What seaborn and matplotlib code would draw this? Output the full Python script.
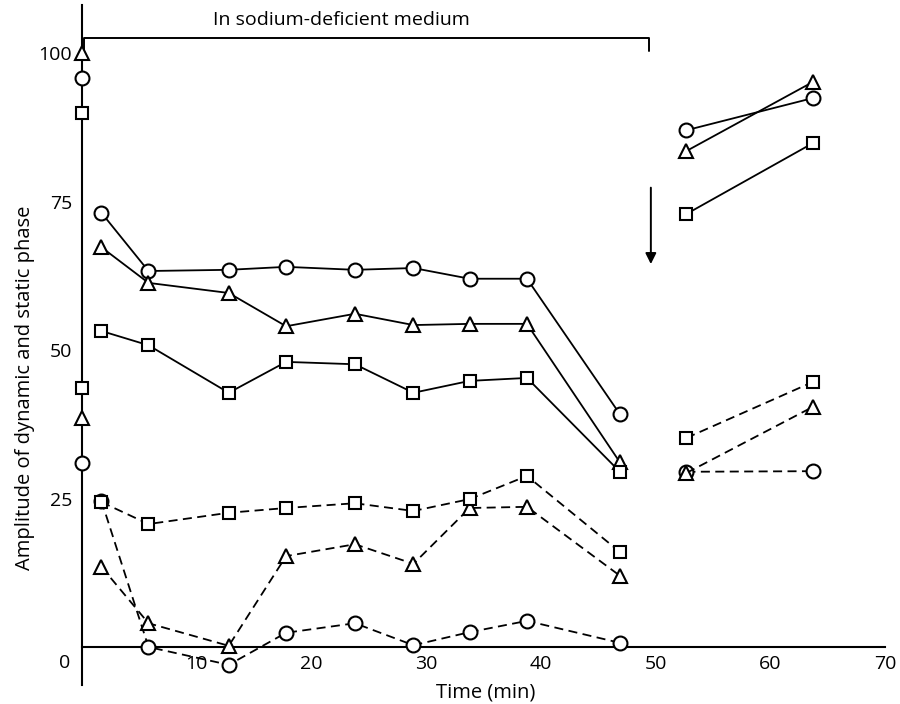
import numpy as np
import pandas as pd
import seaborn as sns
import matplotlib.pyplot as plt

# sampling times (min)
times = [1.7, 5.8, 12.8, 17.8, 23.8, 28.9, 33.8, 38.8, 46.9]
rec_times = [52.7, 63.7]

# dynamic phase (solid lines)
dyn_circle = [73.1, 63.3, 63.5, 64.0, 63.5, 63.8, 62.0, 62.0, 39.2]
dyn_triangle = [67.3, 61.3, 59.6, 54.0, 56.1, 54.2, 54.4, 54.4, 31.1]
dyn_square = [53.2, 50.8, 42.8, 48.0, 47.6, 42.8, 44.8, 45.3, 29.5]
dyn_circle_rec = [87.0, 92.4]
dyn_triangle_rec = [83.5, 95.1]
dyn_square_rec = [72.9, 84.8]

# static phase (dashed lines)
stat_circle = [24.6, 0.0, -3.0, 2.4, 4.0, 0.3, 2.5, 4.4, 0.7]
stat_triangle = [13.5, 4.0, 0.2, 15.3, 17.3, 14.0, 23.4, 23.6, 12.0]
stat_square = [24.4, 20.7, 22.6, 23.4, 24.2, 22.9, 24.9, 28.8, 16.0]
stat_circle_rec = [29.5, 29.6]
stat_triangle_rec = [29.3, 40.4]
stat_square_rec = [35.2, 44.6]

# control values at time 0 (plotted on the y axis)
init_markers = ['^', 'o', 's', 's', '^', 'o']
init_values = [100, 95.8, 89.9, 43.6, 38.5, 31.0]

x_ticks = [10, 20, 30, 40, 50, 60, 70]
y_ticks = [0, 25, 50, 75, 100]
y_tick_labels = ['', '25', '50', '75', '100']

sns.set_style('white')
plt.rcParams['font.family'] = ['Open Sans', 'DejaVu Sans']
plt.rcParams['text.color'] = 'black'

fig = plt.figure(figsize=(9, 7.04), dpi=100)
ax = fig.add_axes([0.0783, 0.0219, 0.9176, 0.9703])

msize = {'o': 10, '^': 9.5, 's': 8.5}
series = [
    (dyn_circle, dyn_circle_rec, 'o', '-'),
    (dyn_triangle, dyn_triangle_rec, '^', '-'),
    (dyn_square, dyn_square_rec, 's', '-'),
    (stat_circle, stat_circle_rec, 'o', (0, (5, 3))),
    (stat_triangle, stat_triangle_rec, '^', (0, (5, 3))),
    (stat_square, stat_square_rec, 's', (0, (5, 3))),
]
for vals, rec, mk, ls in series:
    for tt, vv in [(times, vals), (rec_times, rec)]:
        df = pd.DataFrame({'time': tt, 'amp': vv})
        sns.lineplot(data=df, x='time', y='amp', ax=ax, estimator=None, sort=False,
                     color='black', lw=1.3, linestyle=ls, marker=mk,
                     markersize=msize[mk], markerfacecolor='white',
                     markeredgecolor='black', markeredgewidth=1.5,
                     clip_on=False, zorder=4)

for mk, v in zip(init_markers, init_values):
    ax.plot([0], [v], marker=mk, markersize=msize[mk], markerfacecolor='white',
            markeredgecolor='black', markeredgewidth=1.5, linestyle='none',
            clip_on=False, zorder=6)

ax.set_xlim(-1, 71)
ax.set_ylim(-7, 108)

for s in ['top', 'right']:
    ax.spines[s].set_visible(False)
ax.spines['left'].set_position(('data', 0))
ax.spines['bottom'].set_position(('data', 0))
ax.spines['bottom'].set_bounds(0, 70)
ax.spines['left'].set_bounds(-6.4, 108)
for s in ['left', 'bottom']:
    ax.spines[s].set_linewidth(1.5)
    ax.spines[s].set_color('black')

ax.set_xticks(x_ticks)
ax.set_xticklabels([str(t) for t in x_ticks])
ax.set_yticks(y_ticks)
ax.set_yticklabels(y_tick_labels)
ax.tick_params(axis='both', direction='in', length=7, width=1.3, labelsize=14,
               colors='black')
ax.tick_params(axis='x', pad=6)
ax.tick_params(axis='y', pad=7)
ax.set_xlabel('')
ax.set_ylabel('')

ax.text(-1.5, -2.7, '0', ha='center', va='center', fontsize=14)
ax.text(35.2, -7.7, 'Time (min)', ha='center', va='center', fontsize=14.5,
        clip_on=False)
ax.text(-5.0, 43.6, 'Amplitude of dynamic and static phase', rotation=90,
        ha='center', va='center', fontsize=14.5, clip_on=False)

# bracket for sodium-deficient period
ax.plot([0.2, 0.2, 49.4, 49.4], [99.8, 102.5, 102.5, 100.3], color='black',
        lw=1.4, clip_on=False, zorder=3)
ax.text(11.4, 105.6, 'In sodium-deficient medium', ha='left', va='center',
        fontsize=14)

ax.annotate('', xy=(49.6, 64.0), xytext=(49.6, 77.8),
            arrowprops=dict(arrowstyle='-|>', lw=1.4, color='black',
                            mutation_scale=16))

fig.savefig('out.png', dpi=100)
